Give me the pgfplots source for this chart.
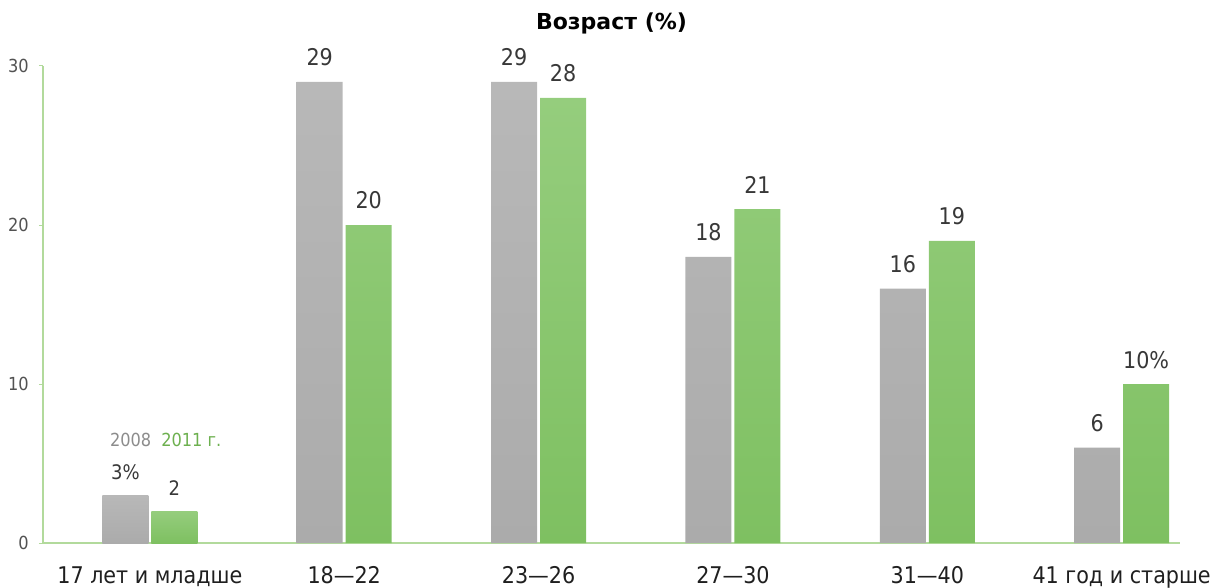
\documentclass[border=0pt]{standalone}
\usepackage{fontspec}
\setmainfont{DejaVu Sans Condensed}
\newfontfamily\titlefont{DejaVu Sans}
\usepackage{pgfplots}
\pgfplotsset{compat=1.18}
\definecolor{axgreen}{HTML}{B2DA9C}
\definecolor{grayT}{HTML}{B8B8B8}
\definecolor{grayB}{HTML}{ABABAB}
\definecolor{greenT}{HTML}{95CD7D}
\definecolor{greenB}{HTML}{7EC061}
\definecolor{legGray}{HTML}{8C8C8C}
\definecolor{legGreen}{HTML}{6DB04F}
\begin{document}
\begin{tikzpicture}
\path[use as bounding box] (-43pt,-44pt) rectangle (1172pt,543pt);
\begin{axis}[
  at={(0pt,0pt)}, anchor=south west,
  scale only axis, width=1137pt, height=477pt,
  xmin=-0.55, xmax=5.30, ymin=0, ymax=30,
  ybar, bar width=46pt,
  axis x line*=bottom, axis y line*=left,
  axis line style={axgreen, line width=1.5pt},
  xtick={0,1,2,3,4,5},
  xticklabels={17 лет и младше, 18—22, 23—26, 27—30, 31—40, 41 год и старше},
  major x tick style={draw=none},
  ytick={0,10,20,30},
  tick align=outside, major tick length=4pt,
  major y tick style={axgreen, line width=1pt},
  /pgf/number format/assume math mode=true,
  yticklabel style={font=\fontsize{18}{18}\selectfont, text=black!68, anchor=east, inner sep=0pt, xshift=-10pt},
  xticklabel style={font=\fontsize{23}{23}\selectfont, text=black!88, anchor=base, inner sep=0pt, yshift=-36pt},
  title={Возраст (\%)},
  title style={at={(0.5,1)}, anchor=base, yshift=30pt, inner sep=0pt, font=\titlefont\bfseries\fontsize{22}{26}\selectfont},
  point meta=explicit symbolic,
  nodes near coords,
  every node near coord/.append style={anchor=base, yshift=16pt, inner sep=0pt, text=black!78, font=\fontsize{23}{23}\selectfont},
]
\addplot[draw=none, top color=grayT, bottom color=grayB, bar shift=-24.5pt]
  coordinates {(1,29) [29] (2,29) [29] (3,18) [18] (4,16) [16] (5,6) [6]};
\addplot[draw=none, top color=greenT, bottom color=greenB, bar shift=24.5pt]
  coordinates {(1,20) [20] (2,28) [28] (3,21) [21] (4,19) [19] (5,10) [10\%]};
\addplot[draw=none, top color=grayT, bottom color=grayB, bar shift=-24.5pt,
  every node near coord/.append style={font=\fontsize{20}{20}\selectfont}]
  coordinates {(0,3) [3\%]};
\addplot[draw=none, top color=greenT, bottom color=greenB, bar shift=24.5pt,
  every node near coord/.append style={font=\fontsize{20}{20}\selectfont}]
  coordinates {(0,2) [2]};
\node[anchor=base west, inner sep=0pt, font=\fontsize{18}{18}\selectfont]
  at (axis cs:-0.206,6.1) {\textcolor{legGray}{2008}\hspace{10pt}\textcolor{legGreen}{2011 г.}};
\end{axis}
\end{tikzpicture}
\end{document}
